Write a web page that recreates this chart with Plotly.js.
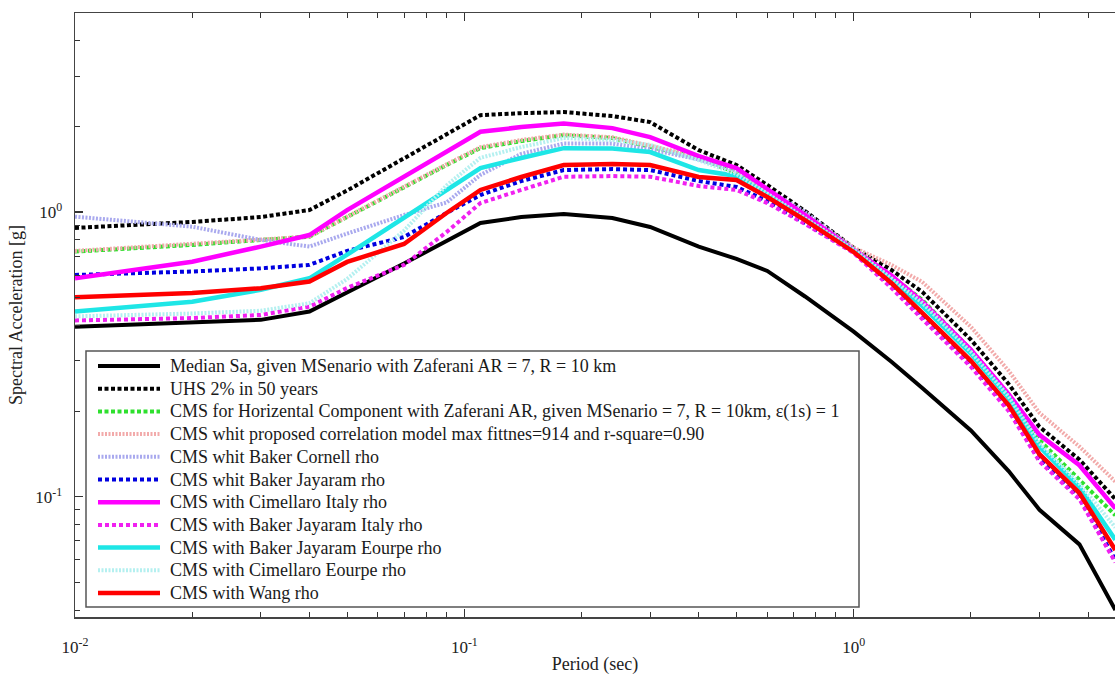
<!DOCTYPE html>
<html>
<head>
<meta charset="utf-8">
<script src="https://cdn.plot.ly/plotly-3.0.1.min.js"></script>
<style>html,body{margin:0;padding:0;background:#fff;}#chart{width:1115px;height:675px;}</style>
</head>
<body>
<div id="chart"></div>
<script>
// Periods (sec)
const periods = [0.01,0.02,0.03,0.04,0.05,0.07,0.09,0.11,0.14,0.18,0.24,0.3,0.4,0.5,0.6,0.75,1.0,1.25,1.5,2.0,2.5,3.0,3.8,4.7];

// Spectral acceleration values [g]
const medianSa     = [0.395,0.408,0.418,0.447,0.520,0.659,0.791,0.915,0.960,0.984,0.953,0.886,0.756,0.684,0.621,0.505,0.380,0.298,0.241,0.171,0.123,0.090,0.068,0.040];
const uhs          = [0.879,0.923,0.960,1.016,1.19,1.546,1.878,2.189,2.224,2.244,2.173,2.069,1.650,1.462,1.244,1.008,0.748,0.626,0.524,0.356,0.249,0.176,0.135,0.098];
const cmsHoriz     = [0.726,0.766,0.798,0.819,0.960,1.227,1.462,1.677,1.774,1.862,1.818,1.695,1.547,1.370,1.166,0.960,0.742,0.596,0.491,0.328,0.228,0.158,0.115,0.086];
const cmsProposed  = [0.73,0.77,0.80,0.82,0.965,1.23,1.47,1.69,1.79,1.87,1.83,1.71,1.56,1.39,1.19,0.985,0.75,0.652,0.568,0.395,0.277,0.197,0.150,0.113];
const cmsCornell   = [0.963,0.888,0.798,0.756,0.84,0.976,1.08,1.35,1.60,1.74,1.74,1.66,1.53,1.40,1.20,1.0,0.742,0.598,0.484,0.328,0.229,0.165,0.129,0.091];
const cmsJayaram   = [0.601,0.618,0.634,0.652,0.730,0.817,0.992,1.147,1.285,1.404,1.415,1.404,1.285,1.224,1.093,0.915,0.724,0.554,0.432,0.293,0.205,0.136,0.100,0.060];
const cmsCimItaly  = [0.585,0.669,0.756,0.830,1.016,1.331,1.630,1.913,1.987,2.047,1.971,1.833,1.572,1.426,1.204,0.976,0.736,0.598,0.484,0.328,0.229,0.165,0.129,0.091];
const cmsJayItaly  = [0.416,0.424,0.435,0.465,0.541,0.652,0.85,1.075,1.195,1.330,1.337,1.330,1.234,1.195,1.075,0.908,0.718,0.541,0.421,0.286,0.200,0.133,0.098,0.0588];
const cmsJayEurope = [0.447,0.484,0.533,0.585,0.708,0.953,1.195,1.427,1.547,1.676,1.670,1.624,1.404,1.338,1.147,0.945,0.730,0.577,0.468,0.318,0.222,0.150,0.108,0.0706];
const cmsCimEurope = [0.43,0.44,0.45,0.478,0.582,0.86,1.24,1.55,1.69,1.82,1.79,1.72,1.52,1.36,1.16,0.955,0.738,0.585,0.48,0.323,0.225,0.154,0.111,0.078];
const cmsWang      = [0.502,0.519,0.540,0.570,0.668,0.772,0.992,1.195,1.327,1.462,1.474,1.462,1.327,1.295,1.129,0.937,0.724,0.563,0.442,0.300,0.210,0.141,0.103,0.065];

const seriesNames = [
  "Median Sa, given MSenario with Zaferani AR = 7, R = 10 km",
  "UHS 2% in 50 years",
  "CMS for Horizental Component with Zaferani AR, given MSenario = 7, R = 10km, \u03b5(1s) = 1",
  "CMS whit proposed correlation model max fittnes=914 and r-square=0.90",
  "CMS whit Baker Cornell rho",
  "CMS whit Baker Jayaram rho",
  "CMS with Cimellaro Italy rho",
  "CMS with Baker Jayaram Italy rho",
  "CMS with Baker Jayaram Eourpe rho",
  "CMS with Cimellaro Eourpe rho",
  "CMS with Wang rho"
];
const seriesValues = [medianSa, uhs, cmsHoriz, cmsProposed, cmsCornell, cmsJayaram, cmsCimItaly, cmsJayItaly, cmsJayEurope, cmsCimEurope, cmsWang];

const styles = [
  {color:'#000000', width:4,   dash:'solid'},
  {color:'#000000', width:4,   dash:'4px,2.5px'},
  {color:'#2ee02e', width:4,   dash:'4px,2.5px'},
  {color:'#f2aaaa', width:4,   dash:'2px,1.5px'},
  {color:'#a9a9ee', width:4,   dash:'2px,1.5px'},
  {color:'#0000e0', width:4,   dash:'4px,3px'},
  {color:'#ff00ff', width:4.5, dash:'solid'},
  {color:'#f020f0', width:4,   dash:'4px,3px'},
  {color:'#1ee6e6', width:4.5, dash:'solid'},
  {color:'#b4f0f0', width:4,   dash:'2px,1.5px'},
  {color:'#ff0000', width:4.5, dash:'solid'}
];

const traces = seriesValues.map((vals, i) => ({
  type: 'scatter',
  mode: 'lines',
  x: periods,
  y: vals,
  name: seriesNames[i],
  line: styles[i],
  hoverinfo: 'skip',
  showlegend: false
}));

const xTickVals = [0.01, 0.1, 1];
const xTickText = ['10<sup>-2</sup>', '10<sup>-1</sup>', '10<sup>0</sup>'];
const xMinorVals = [0.02,0.03,0.04,0.05,0.06,0.07,0.08,0.09,0.2,0.3,0.4,0.5,0.6,0.7,0.8,0.9,2,3,4];
const yTickVals = [0.1, 1];
const yTickText = ['10<sup>-1</sup>', '10<sup>0</sup>'];
const yMinorVals = [0.04,0.05,0.06,0.07,0.08,0.09,0.2,0.3,0.4,0.5,0.6,0.7,0.8,0.9,2,3,4];

const serif = 'Liberation Serif, Times New Roman, serif';

// ---- legend box (drawn as layout decoration, in paper coordinates) ----
const W = 1115, H = 675, ML = 75, MR = 0, MT = 13, MB = 58;
const PW = W - ML - MR, PH = H - MT - MB;
const px = v => (v - ML) / PW;          // pixel x -> paper x
const py = v => (H - MB - v) / PH;      // pixel y -> paper y
const legBox = {x0: 86, x1: 859, y0: 351, y1: 607};
const legFirstY = 366, legStep = 22.7, legLineX0 = 98, legLineX1 = 160, legTextX = 168;

const shapes = [{
  type: 'rect', xref: 'paper', yref: 'paper',
  x0: px(legBox.x0), x1: px(legBox.x1), y0: py(legBox.y1), y1: py(legBox.y0),
  fillcolor: '#ffffff', line: {color: '#555', width: 1.5}, layer: 'above'
}];
const annotations = [];
seriesNames.forEach((nm, i) => {
  const yy = py(legFirstY + legStep * i);
  shapes.push({
    type: 'line', xref: 'paper', yref: 'paper',
    x0: px(legLineX0), x1: px(legLineX1), y0: yy, y1: yy,
    line: {color: styles[i].color, width: styles[i].width, dash: styles[i].dash},
    layer: 'above'
  });
  annotations.push({
    xref: 'paper', yref: 'paper', x: px(legTextX), y: yy,
    xanchor: 'left', yanchor: 'middle', showarrow: false,
    text: nm, font: {family: serif, size: 18, color: '#1a1a1a'}
  });
});

const layout = {
  width: W,
  height: H,
  margin: {l: ML, r: MR, t: MT, b: MB},
  paper_bgcolor: '#ffffff',
  plot_bgcolor: '#ffffff',
  font: {family: serif, size: 16, color: '#222'},
  showlegend: false,
  shapes: shapes,
  annotations: annotations,
  xaxis: {
    type: 'log',
    range: [-2, Math.log10(4.69)],
    showgrid: false, zeroline: false,
    showline: true, linecolor: '#444', linewidth: 1.5,
    mirror: 'allticks',
    ticks: 'inside', ticklen: 8, tickwidth: 1.2, tickcolor: '#333',
    tickmode: 'array', tickvals: xTickVals, ticktext: xTickText,
    minor: {tickmode: 'array', tickvals: xMinorVals, ticks: 'inside', ticklen: 5, tickwidth: 1, tickcolor: '#333', showgrid: false},
    tickfont: {family: serif, size: 17, color: '#222'},
    ticklabelstandoff: 14,
    title: {text: 'Period (sec)', font: {family: serif, size: 18, color: '#222'}, standoff: 12}
  },
  yaxis: {
    type: 'log',
    range: [Math.log10(0.0378), Math.log10(5)],
    showgrid: false, zeroline: false,
    showline: true, linecolor: '#444', linewidth: 1.5,
    mirror: false,
    ticks: 'inside', ticklen: 8, tickwidth: 1.2, tickcolor: '#333',
    tickmode: 'array', tickvals: yTickVals, ticktext: yTickText,
    minor: {tickmode: 'array', tickvals: yMinorVals, ticks: 'inside', ticklen: 5, tickwidth: 1, tickcolor: '#333', showgrid: false},
    tickfont: {family: serif, size: 17, color: '#222'},
    ticklabelstandoff: 8,
    title: {text: 'Spectral Acceleration [g]', font: {family: serif, size: 18, color: '#222'}, standoff: 8}
  }
};

Plotly.newPlot('chart', traces, layout, {displayModeBar: false, staticPlot: true});
</script>
</body>
</html>
